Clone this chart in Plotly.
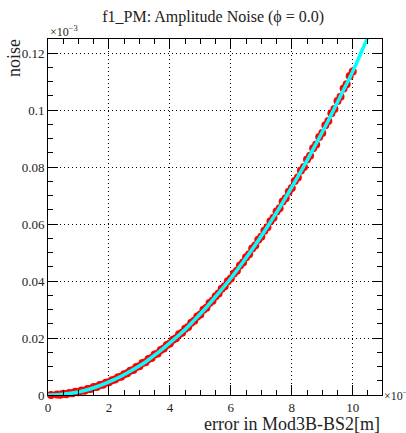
import plotly.graph_objects as go

# Red measured points (x in units of 1e-?, y in units of 1e-3)
red_x = [round(0.1 * i, 1) for i in range(101)]
red_y = [-0.0002, 0.0000, -0.0001, 0.0002, 0.0001, 0.0004, 0.0003, 0.0007, 0.0006, 0.0011,
         0.0010, 0.0016, 0.0015, 0.0021, 0.0021, 0.0028, 0.0028, 0.0035, 0.0036, 0.0043,
         0.0045, 0.0052, 0.0054, 0.0062, 0.0064, 0.0073, 0.0076, 0.0085, 0.0088, 0.0098,
         0.0101, 0.0112, 0.0115, 0.0126, 0.0130, 0.0142, 0.0146, 0.0158, 0.0163, 0.0176,
         0.0181, 0.0194, 0.0199, 0.0213, 0.0219, 0.0233, 0.0239, 0.0254, 0.0261, 0.0276,
         0.0283, 0.0299, 0.0306, 0.0323, 0.0331, 0.0347, 0.0356, 0.0373, 0.0382, 0.0399,
         0.0409, 0.0427, 0.0436, 0.0455, 0.0465, 0.0484, 0.0494, 0.0514, 0.0525, 0.0545,
         0.0556, 0.0577, 0.0589, 0.0610, 0.0622, 0.0644, 0.0656, 0.0679, 0.0691, 0.0714,
         0.0727, 0.0751, 0.0764, 0.0788, 0.0801, 0.0827, 0.0840, 0.0866, 0.0880, 0.0906,
         0.0920, 0.0947, 0.0962, 0.0989, 0.1004, 0.1032, 0.1047, 0.1076, 0.1091, 0.1120,
         0.1136]

# Cyan fitted curve
line_x = [0.0, 0.4, 0.8, 1.2, 1.6, 2.0, 2.4, 2.8, 3.2, 3.6, 4.0, 4.4, 4.8, 5.2, 5.6,
          6.0, 6.4, 6.8, 7.2, 7.6, 8.0, 8.4, 8.8, 9.2, 9.6, 10.0, 10.4, 10.8]
line_y = [0.0, 0.0002, 0.0007, 0.0016, 0.0029, 0.0046, 0.0066, 0.0090, 0.0116, 0.0148,
          0.0183, 0.0220, 0.0263, 0.0308, 0.0358, 0.0410, 0.0467, 0.0527, 0.0591, 0.0658,
          0.0730, 0.0804, 0.0883, 0.0964, 0.1050, 0.1136, 0.1233, 0.1330]

x_ticks = [0, 2, 4, 6, 8, 10]
y_ticks = [0, 0.02, 0.04, 0.06, 0.08, 0.1, 0.12]
y_ticklabels = ["0", "0.02", "0.04", "0.06", "0.08", "0.1", "0.12"]

FONT = "Liberation Serif"

fig = go.Figure()
fig.add_trace(go.Scatter(x=red_x, y=red_y, mode="markers",
                         marker=dict(color="#ff0000", size=8, line=dict(width=0)),
                         cliponaxis=False, showlegend=False))
fig.add_trace(go.Scatter(x=line_x, y=line_y, mode="lines", line_shape="spline",
                         line=dict(color="#00ffff", width=3.5),
                         cliponaxis=True, showlegend=False))

axis_common = dict(showline=True, linecolor="black", linewidth=1, mirror="ticks",
                   ticks="inside", ticklen=10, tickcolor="black", tickwidth=1,
                   showgrid=True, gridcolor="black", gridwidth=1, griddash="1px,3px",
                   zeroline=False, tickfont=dict(family=FONT, size=13, color="#222"))

fig.update_xaxes(range=[0, 10.96], tickvals=x_ticks, ticktext=[str(v) for v in x_ticks],
                 minor=dict(ticks="inside", ticklen=5, dtick=0.5, tick0=0, tickcolor="black",
                            showgrid=False),
                 **axis_common)
fig.update_yaxes(range=[0, 0.125], tickvals=y_ticks, ticktext=y_ticklabels,
                 minor=dict(ticks="inside", ticklen=5, dtick=0.005, tick0=0, tickcolor="black",
                            showgrid=False),
                 **axis_common)

fig.update_layout(
    width=406, height=433,
    margin=dict(l=48, r=24, t=39, b=38),
    plot_bgcolor="white", paper_bgcolor="white",
    font=dict(family=FONT, color="#222"),
    title=dict(text="f1_PM: Amplitude Noise (ϕ = 0.0)", x=0.525, xanchor="center",
               y=0.962, yanchor="middle", font=dict(family=FONT, size=16, color="#222")),
    annotations=[
        dict(text="×10<sup>−3</sup>", xref="paper", yref="paper", x=0, y=1.0,
             xanchor="left", yanchor="bottom", showarrow=False, yshift=-2,
             font=dict(family=FONT, size=12, color="#222")),
        dict(text="×10<sup>−3</sup>", xref="paper", yref="paper", x=1.0, y=0.0,
             xanchor="left", yanchor="middle", xshift=0, showarrow=False,
             font=dict(family=FONT, size=12, color="#222")),
        dict(text="error in Mod3B-BS2[m]", xref="paper", yref="paper", x=1.0, y=0,
             xanchor="right", yanchor="top", yshift=-17, showarrow=False,
             font=dict(family=FONT, size=18, color="#222")),
        dict(text="noise", xref="paper", yref="paper", x=0, y=1.0,
             xanchor="right", yanchor="top", xshift=-22, yshift=2, showarrow=False,
             textangle=-90, font=dict(family=FONT, size=18, color="#222")),
    ],
)

fig.write_html("out.html")
